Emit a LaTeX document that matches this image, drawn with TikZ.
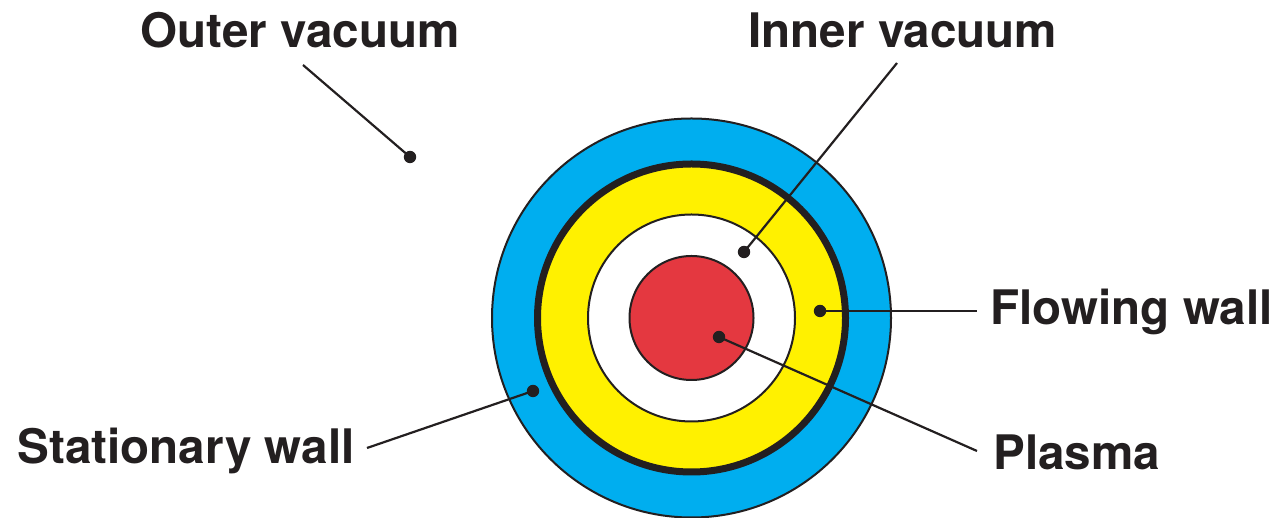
\documentclass[tikz,border=0pt]{standalone}
\usepackage{fontspec}
\setmainfont{TeX Gyre Heros}
\definecolor{wallblue}{RGB}{0,174,239}
\definecolor{flowyellow}{RGB}{255,241,0}
\definecolor{plasmared}{RGB}{228,56,64}
\definecolor{inkblack}{RGB}{35,31,32}
\tikzset{
  ring/.style={draw=inkblack, line width=1pt},
  leader/.style={draw=inkblack, line width=1.1pt},
  dot/.style={circle, fill=inkblack, inner sep=0pt, minimum size=6.2pt},
  tag/.style={inner sep=0pt, anchor=base west, text=inkblack,
    font=\fontsize{23.8}{28}\selectfont\bfseries}
}
\begin{document}
\begin{tikzpicture}[x=0.5pt, y=0.5pt]
\useasboundingbox (0,0) rectangle (1279,518);
% rings
\draw[ring, fill=wallblue] (691.5,200) circle (199.5);
\draw[draw=inkblack, line width=3.5pt, fill=flowyellow] (691.5,200) circle (154);
\draw[ring, fill=white] (691.5,200) circle (103.5);
\draw[ring, fill=plasmared] (691.5,200) circle (62);
% labels
\node[tag] (outer) at (140,470) {Outer vacuum};
\node[tag] (inner) at (748,470) {Inner vacuum};
\node[tag] (flowing) at (990,193) {Flowing wall};
\node[tag] (plasma) at (993,48) {Plasma};
\node[tag] (stationary) at (17,54) {Stationary wall};
% leader ends
\coordinate (outerend) at (303,453);
\coordinate (innerend) at (897,455);
\coordinate (flowingend) at (977,207);
\coordinate (plasmaend) at (977,67);
\coordinate (stationaryend) at (367,70);
% dots
\node[dot] (outerdot) at (410,361) {};
\node[dot] (innerdot) at (744,266) {};
\node[dot] (flowingdot) at (820,207) {};
\node[dot] (plasmadot) at (719,181) {};
\node[dot] (stationarydot) at (533,127) {};
% leaders
\draw[leader] (outerdot.center) -- (outerend);
\draw[leader] (innerdot.center) -- (innerend);
\draw[leader] (flowingdot.center) -- (flowingend);
\draw[leader] (plasmadot.center) -- (plasmaend);
\draw[leader] (stationarydot.center) -- (stationaryend);
\end{tikzpicture}
\end{document}
